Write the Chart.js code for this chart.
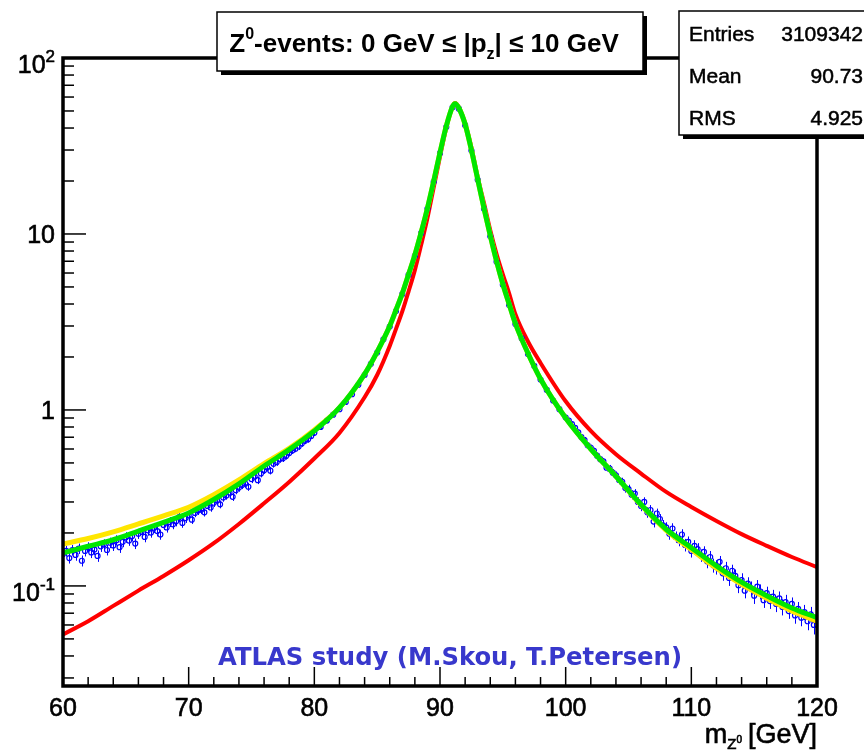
<!DOCTYPE html>
<html>
<head>
<meta charset="utf-8">
<script src="https://cdn.jsdelivr.net/npm/chart.js@4.4.0/dist/chart.umd.min.js"></script>
<style>
  body { margin: 0; background: #fff; }
  canvas { display: block; }
</style>
</head>
<body>
<canvas id="chart" width="864" height="752"></canvas>
<script>
// measured histogram (bin centres, contents, errors)
const dataMass = [
  60, 60.25, 60.5, 60.75, 61, 61.25, 61.5, 61.75, 62, 62.25, 62.5, 62.75, 63, 63.25, 63.5, 63.75,
  64, 64.25, 64.5, 64.75, 65, 65.25, 65.5, 65.75, 66, 66.25, 66.5, 66.75, 67, 67.25, 67.5, 67.75,
  68, 68.25, 68.5, 68.75, 69, 69.25, 69.5, 69.75, 70, 70.25, 70.5, 70.75, 71, 71.25, 71.5, 71.75,
  72, 72.25, 72.5, 72.75, 73, 73.25, 73.5, 73.75, 74, 74.25, 74.5, 74.75, 75, 75.25, 75.5, 75.75,
  76, 76.25, 76.5, 76.75, 77, 77.25, 77.5, 77.75, 78, 78.25, 78.5, 78.75, 79, 79.25, 79.5, 79.75,
  80,
  80.5, 81, 81.5, 82, 82.5, 83, 83.5, 84, 84.5, 85, 85.5, 86, 86.5, 87, 87.5, 88, 88.5, 89, 89.5,
  90, 90.5, 91, 91.5, 92, 92.5, 93, 93.5, 94, 94.5, 95, 95.5, 96, 96.5, 97, 97.5, 98, 98.5, 99, 99.5,
  100, 100.25, 100.5, 100.75, 101, 101.25, 101.5, 101.75, 102, 102.25, 102.5, 102.75, 103, 103.25, 103.5, 103.75,
  104, 104.25, 104.5, 104.75, 105, 105.25, 105.5, 105.75, 106, 106.25, 106.5, 106.75, 107, 107.25, 107.5, 107.75,
  108, 108.25, 108.5, 108.75, 109, 109.25, 109.5, 109.75, 110, 110.25, 110.5, 110.75, 111, 111.25, 111.5, 111.75,
  112, 112.25, 112.5, 112.75, 113, 113.25, 113.5, 113.75, 114, 114.25, 114.5, 114.75, 115, 115.25, 115.5, 115.75,
  116, 116.25, 116.5, 116.75, 117, 117.25, 117.5, 117.75, 118, 118.25, 118.5, 118.75, 119, 119.25, 119.5, 119.75,
  120
];
const dataEvents = [
  0.152, 0.158, 0.144, 0.160, 0.150, 0.163, 0.139, 0.158, 0.166, 0.155, 0.161, 0.148, 0.168, 0.172, 0.160, 0.176,
  0.170, 0.182, 0.166, 0.178, 0.189, 0.181, 0.192, 0.174, 0.198, 0.203, 0.190, 0.207, 0.201, 0.214, 0.205, 0.196,
  0.222, 0.215, 0.231, 0.224, 0.233, 0.246, 0.228, 0.243, 0.252, 0.238, 0.260, 0.268, 0.271, 0.262, 0.285, 0.279,
  0.297, 0.306, 0.291, 0.318, 0.326, 0.339, 0.321, 0.350, 0.362, 0.374, 0.381, 0.366, 0.405, 0.418, 0.399, 0.436,
  0.455, 0.471, 0.452, 0.494, 0.505, 0.526, 0.531, 0.548, 0.570, 0.589, 0.602, 0.620, 0.645, 0.668, 0.681, 0.712,
  0.741,
  0.80, 0.87, 0.94, 1.01, 1.11, 1.23, 1.39, 1.58, 1.83, 2.12, 2.52, 2.98, 3.65, 4.55, 5.85, 7.5, 10.1, 13.9, 19.8,
  28.8, 40.5, 52.5, 51.5, 41.5, 29.8, 20.3, 13.9, 9.7, 6.95, 5.15, 3.95, 3.08, 2.55, 2.08, 1.78, 1.49, 1.30, 1.13, 1.01,
  0.905, 0.87, 0.83, 0.79, 0.745, 0.70, 0.675, 0.63, 0.61, 0.585, 0.55, 0.525, 0.51, 0.47, 0.465, 0.44,
  0.425, 0.40, 0.39, 0.36, 0.355, 0.33, 0.335, 0.30, 0.285, 0.30, 0.262, 0.27, 0.232, 0.258, 0.24, 0.221,
  0.215, 0.198, 0.212, 0.19, 0.182, 0.196, 0.171, 0.178, 0.158, 0.169, 0.162, 0.149, 0.156, 0.138, 0.146, 0.131,
  0.128, 0.137, 0.118, 0.126, 0.111, 0.122, 0.114, 0.101, 0.108, 0.094, 0.103, 0.097, 0.088, 0.099, 0.093, 0.083,
  0.091, 0.082, 0.087, 0.079, 0.085, 0.076, 0.081, 0.072, 0.079, 0.068, 0.074, 0.066, 0.071, 0.063, 0.069, 0.060,
  0.066
];
const dataErr = [
  0.011, 0.011, 0.010, 0.011, 0.011, 0.011, 0.010, 0.011, 0.011, 0.011, 0.011, 0.011, 0.012, 0.012, 0.011, 0.012,
  0.012, 0.012, 0.012, 0.012, 0.013, 0.012, 0.013, 0.012, 0.013, 0.013, 0.013, 0.014, 0.013, 0.014, 0.014, 0.013,
  0.014, 0.014, 0.015, 0.014, 0.015, 0.015, 0.014, 0.015, 0.014, 0.013, 0.014, 0.015, 0.015, 0.014, 0.015, 0.015,
  0.016, 0.016, 0.015, 0.017, 0.017, 0.018, 0.017, 0.018, 0.019, 0.019, 0.020, 0.019, 0.021, 0.021, 0.020, 0.022,
  0.022, 0.023, 0.022, 0.024, 0.024, 0.025, 0.025, 0.026, 0.026, 0.027, 0.027, 0.028, 0.028, 0.029, 0.029, 0.030,
  0.030,
  0.026, 0.027, 0.028, 0.030, 0.033, 0.035, 0.040, 0.044, 0.050, 0.059, 0.070, 0.05, 0.06, 0.07, 0.08, 0.1, 0.12, 0.15, 0.2,
  0.25, 0.3, 0.35, 0.35, 0.3, 0.25, 0.2, 0.15, 0.12, 0.1, 0.08, 0.07, 0.06, 0.07, 0.06, 0.055, 0.05, 0.045, 0.04, 0.036,
  0.033, 0.032, 0.031, 0.030, 0.029, 0.028, 0.027, 0.026, 0.025, 0.025, 0.024, 0.024, 0.023, 0.023, 0.022, 0.022,
  0.022, 0.022, 0.022, 0.021, 0.021, 0.020, 0.020, 0.019, 0.019, 0.019, 0.018, 0.018, 0.017, 0.017, 0.016, 0.016,
  0.015, 0.015, 0.015, 0.014, 0.014, 0.014, 0.014, 0.013, 0.013, 0.013, 0.013, 0.012, 0.012, 0.012, 0.012, 0.012,
  0.012, 0.011, 0.011, 0.011, 0.011, 0.010, 0.010, 0.010, 0.010, 0.009, 0.009, 0.009, 0.009, 0.009, 0.009, 0.008,
  0.008, 0.008, 0.008, 0.008, 0.008, 0.008, 0.008, 0.007, 0.007, 0.007, 0.007, 0.007, 0.007, 0.007, 0.007, 0.007,
  0.007
];

// fitted curves
const fitMass = [60, 62, 64, 66, 68, 70, 72, 74, 76, 78, 80, 82, 84, 85, 86, 86.5, 87, 87.5, 88, 88.5, 89, 89.5, 90, 90.5, 91, 91.2,
  91.5, 92, 92.5, 93, 93.5, 94, 94.5, 95, 95.5, 96, 97, 98, 100, 102, 104, 106, 108, 110, 112, 114, 116, 118, 120];
const fitGreen = [0.154, 0.168, 0.183, 0.205, 0.23, 0.26, 0.31, 0.38, 0.48, 0.595, 0.76, 1.03, 1.6, 2.14, 3.0, 3.7, 4.6, 5.9, 7.6, 10.2, 14.0, 20, 29, 41, 53, 55,
  52, 42, 30, 20.5, 14, 9.8, 7.0, 5.2, 4.0, 3.1, 2.1, 1.5, 0.9, 0.6, 0.42, 0.29, 0.21, 0.165, 0.13, 0.105, 0.088, 0.075, 0.066];
const fitYellow = [0.173, 0.186, 0.203, 0.225, 0.25, 0.28, 0.33, 0.40, 0.495, 0.605, 0.77, 1.03, 1.6, 2.14, 3.0, 3.7, 4.6, 5.9, 7.6, 10.2, 14.0, 20, 29, 41, 53, 55,
  52, 42, 30, 20.5, 14, 9.8, 7.0, 5.2, 4.0, 3.1, 2.1, 1.5, 0.9, 0.6, 0.42, 0.288, 0.207, 0.161, 0.126, 0.102, 0.085, 0.072, 0.063];
const fitRed = [0.053, 0.063, 0.077, 0.094, 0.114, 0.14, 0.175, 0.225, 0.295, 0.39, 0.53, 0.74, 1.18, 1.58, 2.31, 2.89, 3.63, 4.72, 6.23, 8.67, 12.3, 18.4, 27.5, 40.2, 53, 55.5,
  52.5, 42.5, 31, 21, 15, 10.5, 7.7, 5.9, 4.6, 3.5, 2.45, 1.85, 1.12, 0.76, 0.56, 0.435, 0.342, 0.281, 0.234, 0.197, 0.169, 0.146, 0.128];

// axes
const xMajorTicks = [60, 70, 80, 90, 100, 110, 120];
const xMinorTicks = [62, 64, 66, 68, 72, 74, 76, 78, 82, 84, 86, 88, 92, 94, 96, 98, 102, 104, 106, 108, 112, 114, 116, 118];
const yMajorTicks = [0.1, 1, 10, 100];
const yTickLabels = ['10^-1', '1', '10', '10^2'];
const yMinorTicks = [0.03, 0.04, 0.05, 0.06, 0.07, 0.08, 0.09, 0.2, 0.3, 0.4, 0.5, 0.6, 0.7, 0.8, 0.9,
  2, 3, 4, 5, 6, 7, 8, 9, 20, 30, 40, 50, 60, 70, 80, 90];

const statNames = ['Entries', 'Mean', 'RMS'];
const statValues = ['3109342', '90.73', '4.925'];

function pts(xs, ys) {
  return xs.map((x, i) => ({ x: x, y: ys[i] }));
}

const FONT = "'Liberation Sans', Arial, sans-serif";

// text with a hairline stroke, ROOT's Helvetica looks a bit heavier
function heavyText(ctx, t, x, y) {
  ctx.fillText(t, x, y);
  ctx.strokeText(t, x, y);
}

function drawPow(ctx, label, xRight, yMid) {
  const parts = label.split('^');
  ctx.textBaseline = 'alphabetic';
  ctx.font = '25px ' + FONT;
  const wb = ctx.measureText(parts[0]).width;
  let we = 0;
  if (parts[1]) {
    ctx.font = '17px ' + FONT;
    we = ctx.measureText(parts[1]).width;
  }
  const baseY = parts[1] ? yMid + 15 : yMid + 9;
  ctx.font = '25px ' + FONT;
  ctx.textAlign = 'left';
  heavyText(ctx, parts[0], xRight - we - wb, baseY);
  if (parts[1]) {
    ctx.font = '17px ' + FONT;
    heavyText(ctx, parts[1], xRight - we, baseY - 11);
  }
}

function drawRuns(ctx, runs, x, baseline, heavy) {
  let cx = x;
  runs.forEach(r => {
    ctx.font = r.f;
    if (heavy) heavyText(ctx, r.t, cx, baseline + (r.dy || 0));
    else ctx.fillText(r.t, cx, baseline + (r.dy || 0));
    cx += ctx.measureText(r.t).width + (r.gap || 0);
  });
}

function runsWidth(ctx, runs) {
  let w = 0;
  runs.forEach(r => { ctx.font = r.f; w += ctx.measureText(r.t).width + (r.gap || 0); });
  return w;
}

const rootStyle = {
  id: 'rootStyle',
  beforeDraw(chart) {
    const ctx = chart.ctx;
    ctx.save();
    ctx.fillStyle = '#fff';
    ctx.fillRect(0, 0, chart.width, chart.height);
    ctx.restore();
  },
  afterDatasetDraw(chart, args) {
    const ds = chart.data.datasets[args.index];
    if (ds.label !== 'data') return;
    const ctx = chart.ctx;
    const xs = chart.scales.x, ys = chart.scales.y;
    const a = chart.chartArea;
    ctx.save();
    ctx.beginPath();
    ctx.rect(a.left, a.top, a.right - a.left, a.bottom - a.top);
    ctx.clip();
    ctx.strokeStyle = '#0000ff';
    ctx.lineWidth = 1;
    dataMass.forEach((m, i) => {
      const px = Math.round(xs.getPixelForValue(m)) + 0.5;
      const y1 = ys.getPixelForValue(dataEvents[i] + dataErr[i]);
      const y2 = ys.getPixelForValue(Math.max(dataEvents[i] - dataErr[i], 0.001));
      ctx.beginPath();
      ctx.moveTo(px, y1);
      ctx.lineTo(px, y2);
      ctx.stroke();
    });
    ctx.restore();
  },
  afterDraw(chart) {
    const ctx = chart.ctx;
    const xs = chart.scales.x, ys = chart.scales.y;
    const a = chart.chartArea;
    ctx.save();
    ctx.fillStyle = '#000';
    ctx.strokeStyle = '#000';

    // ticks
    ctx.lineWidth = 1.5;
    xMajorTicks.forEach(v => {
      const px = xs.getPixelForValue(v);
      ctx.beginPath(); ctx.moveTo(px, a.bottom); ctx.lineTo(px, a.bottom - 19); ctx.stroke();
    });
    xMinorTicks.forEach(v => {
      const px = xs.getPixelForValue(v);
      ctx.beginPath(); ctx.moveTo(px, a.bottom); ctx.lineTo(px, a.bottom - 9); ctx.stroke();
    });
    yMajorTicks.forEach(v => {
      const py = ys.getPixelForValue(v);
      ctx.beginPath(); ctx.moveTo(a.left, py); ctx.lineTo(a.left + 23, py); ctx.stroke();
    });
    yMinorTicks.forEach(v => {
      const py = ys.getPixelForValue(v);
      ctx.beginPath(); ctx.moveTo(a.left, py); ctx.lineTo(a.left + 11, py); ctx.stroke();
    });

    // frame
    ctx.lineWidth = 3.5;
    ctx.strokeRect(a.left, a.top, a.right - a.left, a.bottom - a.top);

    // tick labels
    ctx.lineWidth = 0.6;
    ctx.font = '25px ' + FONT;
    ctx.textAlign = 'center';
    ctx.textBaseline = 'alphabetic';
    xMajorTicks.forEach(v => {
      heavyText(ctx, String(v), xs.getPixelForValue(v), a.bottom + 30);
    });
    yMajorTicks.forEach((v, i) => {
      drawPow(ctx, yTickLabels[i], a.left - 8, ys.getPixelForValue(v));
    });

    // axis title
    ctx.textAlign = 'left';
    const axRuns = [
      { t: 'm', f: '27px ' + FONT },
      { t: 'Z', f: '15px ' + FONT, dy: 6 },
      { t: '0', f: '10px ' + FONT, dy: 0, gap: 6 },
      { t: '[GeV]', f: '27px ' + FONT }
    ];
    drawRuns(ctx, axRuns, a.right - runsWidth(ctx, axRuns), 743, true);

    // title box
    const tb = { l: 217, t: 12, r: 643, b: 71 };
    ctx.fillRect(tb.l + 4, tb.t + 4, tb.r - tb.l, tb.b - tb.t);
    ctx.fillStyle = '#fff';
    ctx.fillRect(tb.l, tb.t, tb.r - tb.l, tb.b - tb.t);
    ctx.lineWidth = 1.5;
    ctx.strokeRect(tb.l, tb.t, tb.r - tb.l, tb.b - tb.t);
    ctx.fillStyle = '#000';
    const tRuns = [
      { t: 'Z', f: 'bold 26px ' + FONT },
      { t: '0', f: 'bold 16px ' + FONT, dy: -13 },
      { t: '-events: 0 GeV \u2264 |p', f: 'bold 26px ' + FONT },
      { t: 'z', f: 'bold 16px ' + FONT, dy: 7 },
      { t: '| \u2264 10 GeV', f: 'bold 26px ' + FONT }
    ];
    drawRuns(ctx, tRuns, (tb.l + tb.r) / 2 - 6 - runsWidth(ctx, tRuns) / 2, 52, false);

    // stats box
    const sb = { l: 679, t: 11, r: 880, b: 135 };
    ctx.fillRect(sb.l + 4, sb.t + 4, sb.r - sb.l, sb.b - sb.t);
    ctx.fillStyle = '#fff';
    ctx.fillRect(sb.l, sb.t, sb.r - sb.l, sb.b - sb.t);
    ctx.lineWidth = 1.5;
    ctx.strokeRect(sb.l, sb.t, sb.r - sb.l, sb.b - sb.t);
    ctx.fillStyle = '#000';
    ctx.lineWidth = 0.5;
    ctx.font = '21px ' + FONT;
    statNames.forEach((n, i) => {
      const base = 41 + i * 42;
      ctx.textAlign = 'left';
      heavyText(ctx, n, 689, base);
      ctx.textAlign = 'right';
      heavyText(ctx, statValues[i], 863, base);
    });

    // ATLAS label
    const atlas = 'ATLAS study (M.Skou, T.Petersen)';
    ctx.font = 'bold 25px "DejaVu Sans", Verdana, sans-serif';
    ctx.fillStyle = '#3838cc';
    ctx.textAlign = 'left';
    const w = ctx.measureText(atlas).width;
    const target = 464;
    ctx.translate(218, 665);
    ctx.scale(target / w, 1);
    ctx.fillText(atlas, 0, 0);
    ctx.restore();
  }
};

new Chart(document.getElementById('chart'), {
  type: 'line',
  data: {
    datasets: [
      {
        label: 'fit',
        data: pts(fitMass, fitGreen),
        borderColor: '#00e600',
        borderWidth: 5,
        pointRadius: 0,
        cubicInterpolationMode: 'monotone',
        order: 0
      },
      {
        label: 'fit2',
        data: pts(fitMass, fitYellow),
        borderColor: '#ffe600',
        borderWidth: 5,
        pointRadius: 0,
        cubicInterpolationMode: 'monotone',
        order: 1
      },
      {
        label: 'data',
        data: pts(dataMass, dataEvents),
        showLine: false,
        pointStyle: 'circle',
        pointRadius: 2.5,
        pointBorderWidth: 1.2,
        pointBorderColor: '#0000ff',
        pointBackgroundColor: 'rgba(0,0,0,0)',
        order: 2
      },
      {
        label: 'bw',
        data: pts(fitMass, fitRed),
        borderColor: '#ff0000',
        borderWidth: 4,
        pointRadius: 0,
        cubicInterpolationMode: 'monotone',
        order: 3
      }
    ]
  },
  options: {
    responsive: false,
    animation: false,
    devicePixelRatio: 1,
    layout: { padding: { left: 63, right: 47, top: 58, bottom: 66 } },
    scales: {
      x: { type: 'linear', min: 60, max: 120, display: false },
      y: { type: 'logarithmic', min: 0.027, max: 100, display: false }
    },
    plugins: { legend: { display: false }, tooltip: { enabled: false } }
  },
  plugins: [rootStyle]
});
</script>
</body>
</html>
